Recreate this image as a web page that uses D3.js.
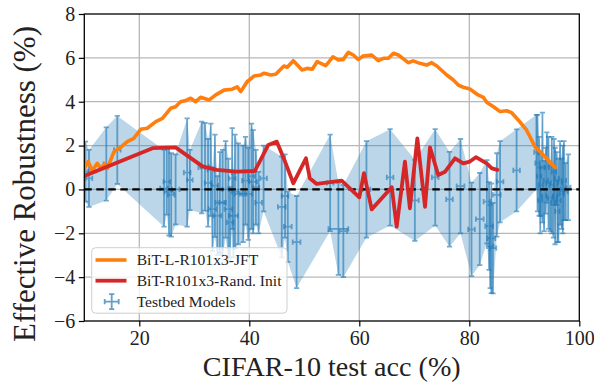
<!DOCTYPE html>
<html>
<head>
<meta charset="utf-8">
<script src="https://cdn.jsdelivr.net/npm/d3@7/dist/d3.min.js"></script>
<style>
  body { margin: 0; background: #fff; }
  text { font-family: "Liberation Serif", "DejaVu Serif", serif; fill: #222; }
</style>
</head>
<body>
<svg id="chart" width="594" height="383"></svg>
<script>
// ---- data -------------------------------------------------------------
const xTicks = [20, 40, 60, 80, 100];
const yTicks = [-6, -4, -2, 0, 2, 4, 6, 8];

// BiT-L-R101x3-JFT fine-tuning trajectory (test acc %, effective robustness %)
const jftAcc = [10.0, 10.7, 11.45, 12.36, 13.0, 13.7, 14.2, 15.4, 16.6, 17.8, 19.0, 20.25, 21.45, 23.0, 24.2,
  25.7, 26.6, 27.5, 28.4, 29.35, 30.25, 31.15, 32.7, 33.9, 35.4, 36.9, 37.8, 38.45, 39.6, 40.85, 42.1, 42.7,
  43.9, 44.8, 46.3, 46.9, 48.0, 49.6, 50.5, 51.45, 52.35, 53.9, 55.2, 56.2, 57.1, 58.0, 58.9, 59.8, 60.7,
  62.25, 63.45, 64.4, 65.3, 66.2, 67.1, 68.9, 69.8, 71.0, 72.25, 73.15, 74.1, 75.9, 77.1, 78.0, 78.9, 80.1,
  81.6, 82.55, 83.2, 84.4, 85.6, 86.8, 87.7, 88.9, 90.4, 91.95, 93.45, 95.6];
const jftEr = [0.96, 1.27, 0.85, 1.19, 0.96, 1.16, 0.96, 1.72, 1.92, 2.18, 2.33, 2.74, 2.79, 3.09, 3.24,
  3.70, 3.77, 4.0, 4.05, 4.16, 4.0, 4.2, 4.08, 4.31, 4.53, 4.57, 4.68, 4.46, 4.91, 5.17, 5.22, 5.30,
  5.22, 5.25, 5.63, 5.57, 5.87, 5.45, 5.52, 5.48, 5.83, 5.64, 6.05, 5.90, 5.93, 6.25, 6.13, 5.93, 6.08,
  6.13, 5.87, 5.98, 5.98, 6.21, 6.13, 5.78, 5.86, 5.75, 5.67, 5.78, 5.63, 5.22, 4.99, 4.76, 4.66, 4.58,
  4.31, 4.20, 3.96, 3.77, 3.55, 3.59, 3.50, 3.17, 2.71, 1.95, 1.57, 1.0];

// BiT-R101x3 trained from random initialisation
const randAcc = [10.0, 22.4, 26.6, 31.5, 34.1, 37.7, 41.0, 43.45, 45.0, 46.5, 48.0, 50.3, 51.0, 52.25, 56.8,
  60.0, 60.85, 62.25, 65.9, 66.8, 68.3, 69.2, 70.55, 71.95, 72.85, 74.35, 75.6, 77.4, 78.9, 80.1, 81.2,
  83.15, 84.1, 85.1];
const randEr = [0.61, 1.88, 1.92, 1.05, 0.89, 0.81, 0.84, 2.03, 2.18, 1.27, 0.28, 1.42, 0.51, 0.25, 0.40,
  -0.36, 0.74, -0.91, 0.10, -1.70, 1.27, -0.86, 2.33, -0.79, 1.92, 0.66, 0.81, 1.42, 1.19, 1.27, 1.47,
  1.19, 0.96, 0.89];

// Testbed models: accuracy, effective robustness and their error bars
const bedAcc = [10.2, 10.85, 14.0, 16.0, 24.5, 25.0, 25.4, 25.8, 26.6, 28.7, 29.2, 31.35, 31.95, 32.5, 33.0,
  33.3, 33.75, 34.2, 34.65, 35.15, 35.7, 36.2, 36.5, 36.9, 37.1, 37.4, 38.0, 38.9, 39.3, 39.8, 40.4, 40.7,
  41.2, 41.7, 42.6, 45.9, 46.5, 47.0, 48.6, 54.7, 56.2, 57.1, 61.3, 65.6, 70.1, 73.8, 76.4, 78.4, 80.4,
  81.9, 83.2, 83.6, 83.8, 84.0, 84.3, 85.0, 85.6, 88.6, 92.2, 92.4, 92.7, 92.9, 93.0, 93.3, 93.6, 93.9,
  94.1, 94.4, 94.7, 95.0, 95.3, 95.4, 95.6, 95.9, 96.0, 96.2, 96.5, 96.8, 97.0, 97.2, 97.5, 98.0];
const bedEr = [0.81, 0.5, 1.16, 1.8, 0.05, 0.35, -0.1, -0.25, 0.0, 0.77, 0.43, 1.0, 1.03, 0.3, 0.9,
  -0.9, 0.17, -1.2, -0.6, -0.6, 0.0, -0.9, -1.5, 0.5, -1.2, -0.1, -0.2, -0.2, 0.4, -0.2, 0.6, 0.35,
  0.1, -0.6, 0.5, -0.8, -0.3, -1.7, -2.4, 0.3, -1.8, -1.9, 0.0, 0.55, -0.5, 0.55, -0.45, 0.15, -1.82,
  -1.35, -0.56, -1.67, -2.6, -2.23, -2.68, -0.25, 0.35, 0.87, 1.7, 1.2, 0.6, -0.5, 0.2, 1.0, -0.3, 0.4,
  1.0, 0.3, -0.4, 0.2, -0.6, 0.8, -0.3, 0.5, -1.0, -0.5, 0.3, -0.2, 0.0, 0.4, -0.1, 0.1];
const bedAccErr = [0.5, 0.6, 0.5, 0.6, 0.7, 0.6, 0.8, 0.6, 0.7, 0.6, 0.5, 0.6, 0.7, 0.6, 0.6,
  0.7, 0.6, 0.7, 0.8, 0.6, 0.6, 0.7, 0.6, 0.6, 0.8, 0.6, 0.7, 0.6, 0.6, 0.7, 0.6, 0.7,
  0.6, 0.6, 0.6, 0.7, 0.6, 0.7, 0.7, 0.6, 1.8, 0.7, 0.7, 0.6, 0.7, 0.6, 0.6, 0.7, 0.6,
  0.7, 0.6, 0.7, 0.6, 0.7, 0.6, 0.7, 0.6, 0.6, 0.4, 0.4, 0.4, 0.4, 0.4, 0.4, 0.4, 0.4,
  0.4, 0.4, 0.4, 0.4, 0.4, 0.4, 0.4, 0.4, 0.4, 0.4, 0.4, 0.4, 0.4, 0.4, 0.4, 0.4];
const bedErErr = [1.37, 1.3, 1.67, 1.55, 1.75, 1.5, 2.0, 1.9, 1.6, 2.47, 1.37, 2.09, 2.0, 2.0, 2.1,
  1.9, 2.33, 1.8, 2.3, 2.4, 2.2, 2.3, 1.6, 2.3, 1.9, 2.6, 2.3, 2.2, 2.0, 2.1, 2.4, 2.35,
  1.7, 1.4, 1.5, 2.3, 1.9, 1.6, 2.1, 2.2, 2.1, 2.1, 2.2, 2.2, 1.85, 2.2, 2.16, 2.15, 2.13,
  2.1, 1.9, 2.0, 1.9, 2.5, 2.06, 1.9, 1.85, 1.87, 1.7, 2.2, 1.8, 1.5, 1.4, 2.5, 1.6, 1.5,
  1.6, 2.1, 1.5, 2.2, 1.6, 1.5, 2.2, 1.2, 1.4, 1.9, 1.9, 1.6, 2.0, 1.8, 1.3, 1.5];

const seriesNames = ["BiT-L-R101x3-JFT", "BiT-R101x3-Rand. Init", "Testbed Models"];
const xTitle = "CIFAR-10 test acc (%)";
const yTitle = "Effective Robustness (%)";

// ---- layout -----------------------------------------------------------
const W = 594, H = 383;
const m = { left: 84.3, right: 14.7, top: 14, bottom: 62 };
const svg = d3.select("#chart");

const x = d3.scaleLinear().domain([10, 100]).range([m.left, W - m.right]);
const y = d3.scaleLinear().domain([-6, 8]).range([H - m.bottom, m.top]);

const blue = "#1f77b4", orange = "#ff7f0e", red = "#d62728";

svg.append("defs").append("clipPath").attr("id", "plot-clip")
  .append("rect").attr("x", m.left).attr("y", m.top)
  .attr("width", W - m.left - m.right).attr("height", H - m.top - m.bottom);

// grid
const grid = svg.append("g").attr("stroke", "#b8b8b8").attr("stroke-width", 1.3);
grid.selectAll("line.gx").data(xTicks.filter(d => d < 100)).join("line")
  .attr("x1", d => x(d)).attr("x2", d => x(d)).attr("y1", m.top).attr("y2", H - m.bottom);
grid.selectAll("line.gy").data(yTicks.filter(d => d > -6 && d < 8)).join("line")
  .attr("y1", d => y(d)).attr("y2", d => y(d)).attr("x1", m.left).attr("x2", W - m.right);

const plot = svg.append("g").attr("clip-path", "url(#plot-clip)");

// testbed confidence band
const bed = bedAcc.map((a, i) => ({ a, r: bedEr[i], ea: bedAccErr[i], er: bedErErr[i] }))
  .sort((p, q) => p.a - q.a);
plot.append("path").datum(bed)
  .attr("fill", blue).attr("fill-opacity", 0.3)
  .attr("d", d3.area().x(d => x(d.a)).y0(d => y(d.r - d.er)).y1(d => y(d.r + d.er)));

// testbed error bars
const cap = 2.6;
const eb = plot.append("g").attr("stroke", blue).attr("stroke-opacity", 0.62).attr("stroke-width", 1.8);
bed.forEach(d => {
  const cx = x(d.a), cy = y(d.r);
  const y0 = y(d.r - d.er), y1 = y(d.r + d.er);
  const x0 = x(d.a - d.ea), x1 = x(d.a + d.ea);
  eb.append("path").attr("fill", "none").attr("d",
    `M${cx},${y0}V${y1}M${cx - cap},${y0}H${cx + cap}M${cx - cap},${y1}H${cx + cap}` +
    `M${x0},${cy}H${x1}M${x0},${cy - cap}V${cy + cap}M${x1},${cy - cap}V${cy + cap}`);
});

// zero reference
plot.append("line")
  .attr("x1", m.left).attr("x2", W - m.right).attr("y1", y(0)).attr("y2", y(0))
  .attr("stroke", "#000").attr("stroke-width", 2.2).attr("stroke-dasharray", "7.5,4.5");

// model trajectories
const line = d3.line().x(d => x(d[0])).y(d => y(d[1]));
plot.append("path").datum(jftAcc.map((a, i) => [a, jftEr[i]]))
  .attr("fill", "none").attr("stroke", orange).attr("stroke-width", 3.6)
  .attr("stroke-linejoin", "round").attr("stroke-linecap", "round").attr("d", line);
plot.append("path").datum(randAcc.map((a, i) => [a, randEr[i]]))
  .attr("fill", "none").attr("stroke", red).attr("stroke-width", 3.8)
  .attr("stroke-linejoin", "round").attr("stroke-linecap", "round").attr("d", line);

// frame
svg.append("rect").attr("x", m.left).attr("y", m.top)
  .attr("width", W - m.left - m.right).attr("height", H - m.top - m.bottom)
  .attr("fill", "none").attr("stroke", "#000").attr("stroke-width", 1.3);

// axes
const fmt = d => (d < 0 ? "\u2212" + Math.abs(d) : String(d));
const xAxis = svg.append("g").attr("transform", `translate(0,${H - m.bottom})`)
  .call(d3.axisBottom(x).tickValues(xTicks).tickFormat(fmt).tickSize(5.5).tickPadding(4));
const yAxis = svg.append("g").attr("transform", `translate(${m.left},0)`)
  .call(d3.axisLeft(y).tickValues(yTicks).tickFormat(fmt).tickSize(5.5).tickPadding(3.5));
[xAxis, yAxis].forEach(g => {
  g.select(".domain").remove();
  g.selectAll(".tick line").attr("stroke", "#000").attr("stroke-width", 1.2);
  g.selectAll(".tick text").attr("font-family", "Liberation Serif, serif")
    .attr("font-size", 20).attr("fill", "#2a2a2a");
});

// fit a text element to a target width by adjusting its font size
function fitText(sel, target, base) {
  sel.attr("font-size", base);
  const w = sel.node().getComputedTextLength();
  sel.attr("font-size", base * target / w);
}

const xt = svg.append("text").attr("x", (m.left + W - m.right) / 2).attr("y", 376)
  .attr("text-anchor", "middle").text(xTitle);
fitText(xt, 258, 26);

const yt = svg.append("text")
  .attr("transform", `translate(35,${(25 + 343) / 2}) rotate(-90)`)
  .attr("text-anchor", "middle").text(yTitle);
fitText(yt, 316, 28);

// legend
const lg = svg.append("g");
lg.append("rect").attr("x", 91.7).attr("y", 247.7).attr("width", 195.3).attr("height", 65.5)
  .attr("rx", 4).attr("fill", "#fff").attr("fill-opacity", 0.8)
  .attr("stroke", "#cfcfcf").attr("stroke-width", 1);
const rows = [260, 280.7, 301.7];
lg.append("line").attr("x1", 95.5).attr("x2", 126.5).attr("y1", rows[0]).attr("y2", rows[0])
  .attr("stroke", orange).attr("stroke-width", 3.6);
lg.append("line").attr("x1", 95.5).attr("x2", 126.5).attr("y1", rows[1]).attr("y2", rows[1])
  .attr("stroke", red).attr("stroke-width", 3.8);
const hx = 111.7, hy = rows[2];
lg.append("path").attr("fill", "none").attr("stroke", blue).attr("stroke-opacity", 0.7)
  .attr("stroke-width", 1.8)
  .attr("d", `M${hx},${hy - 7.5}V${hy + 7.5}M${hx - cap},${hy - 7.5}H${hx + cap}M${hx - cap},${hy + 7.5}H${hx + cap}` +
    `M${hx - 7},${hy}H${hx + 7}M${hx - 7},${hy - cap}V${hy + cap}M${hx + 7},${hy - cap}V${hy + cap}`);
const labels = lg.selectAll("text.lab").data(seriesNames).join("text")
  .attr("x", 136.7).attr("y", (d, i) => rows[i] + 5)
  .text(d => d);
labels.attr("font-size", 14);
const wLong = labels.nodes()[1].getComputedTextLength();
labels.attr("font-size", 14 * 145 / wLong);
</script>
</body>
</html>
